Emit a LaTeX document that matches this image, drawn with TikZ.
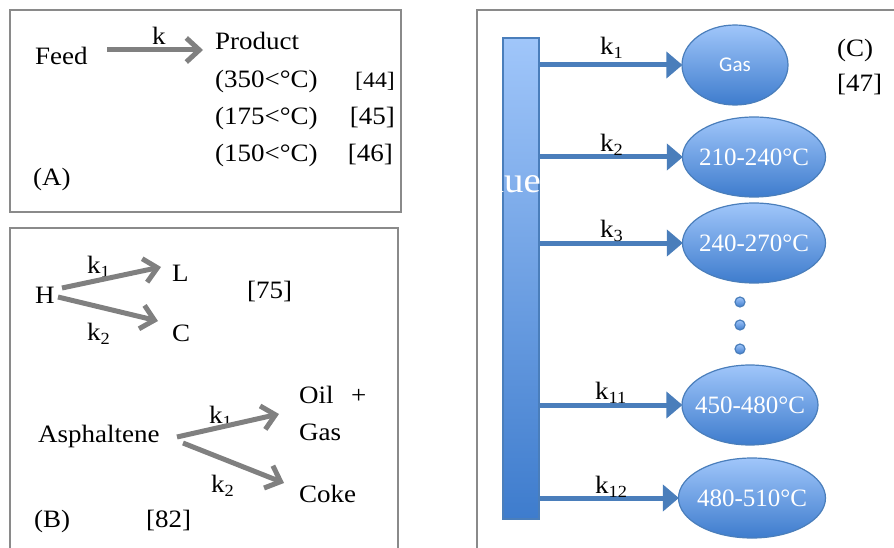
\documentclass[tikz,border=0pt]{standalone}
\usepackage{fontspec}
\setmainfont{Liberation Serif}[FakeStretch=1.08]
\newfontfamily\ovalfont{Liberation Serif}
\newfontfamily\gasfont{Carlito}
\usetikzlibrary{arrows.meta,shapes.geometric}
\definecolor{boxgray}{RGB}{138,138,138}
\definecolor{arrgray}{RGB}{128,128,128}
\definecolor{blueline}{RGB}{74,126,187}
\definecolor{bluetop}{RGB}{160,198,250}
\definecolor{bluebot}{RGB}{62,124,205}
\newcommand\ksubs[1]{k\raisebox{-4pt}{\fontsize{17}{17}\selectfont #1}}
\newcommand\ovaltext[1]{\makebox[0pt]{#1}}
\begin{document}
\begin{tikzpicture}[x=1pt,y=-1pt,
  txt/.style={inner sep=0pt, font=\fontsize{25}{30}\selectfont},
  frame/.style={draw=boxgray, line width=2pt},
  garrow/.style={draw=arrgray, line width=5pt, -{Straight Barb[length=13pt,width=24pt]}},
  barrow/.style={draw=blueline, line width=5pt, -{Triangle[length=16pt,width=26pt]}, shorten >=-1pt},
  bluefill/.style={draw=blueline, line width=1.2pt, top color=bluetop, bottom color=bluebot},
  oval/.style={bluefill, ellipse, inner sep=0pt, minimum height=80pt, text=white, font=\ovalfont\fontsize{25}{30}\selectfont},
  dot/.style={bluefill, circle, inner sep=0pt, minimum size=10pt}
]
\useasboundingbox (0,0) rectangle (894,548);

% ---- Box C contents (drawn first so the frame lies on top) ----
\node[bluefill, rectangle, inner sep=0pt, minimum width=36pt, minimum height=481pt] (bar) at (521,278.5) {};
\node[txt, anchor=base east, text=white, font=\fontsize{36}{40}\selectfont] (res) at (541,193) {Residue};

% frames
\draw[frame] (10,10) rectangle (401,212);
\draw[frame] (10,548) -- (10,228) -- (398,228) -- (398,548);
\draw[frame] (477,548) -- (477,10) -- (896,10);

% ---- Box A ----
\node[txt, anchor=base west] (feed) at (35,65) {Feed};
\node[txt, anchor=base west] (k0) at (152,45) {k};
\node[txt, anchor=base west] (product) at (215,50) {Product};
\node[txt, anchor=base west] (t350) at (215,88) {(350<°C)};
\node[txt, anchor=base east, font=\fontsize{22}{26}\selectfont] (r44) at (395,88) {[44]};
\node[txt, anchor=base west] (t175) at (215,125) {(175<°C)};
\node[txt, anchor=base east] (r45) at (395,125) {[45]};
\node[txt, anchor=base west] (t150) at (215,162) {(150<°C)};
\node[txt, anchor=base east] (r46) at (393,162) {[46]};
\node[txt, anchor=base west] (labA) at (33,186) {(A)};
\coordinate (fs) at (107,50);
\coordinate (fe) at (203,50);
\draw[garrow] (fs) -- (fe);

% ---- Box B ----
\node[txt, anchor=base west] (H) at (35,303) {H};
\node[txt, anchor=base west] (L) at (172,281) {L};
\node[txt, anchor=base west] (C) at (172,341) {C};
\node[txt, anchor=base west] (r75) at (247,298) {[75]};
\node[txt, anchor=base west] (kb1) at (87,273) {\ksubs{1}};
\node[txt, anchor=base west] (kb2) at (87,340) {\ksubs{2}};
\coordinate (hl1) at (62,288);
\coordinate (hl2) at (161,267);
\coordinate (hc1) at (58,297);
\coordinate (hc2) at (158,321);
\draw[garrow] (hl1) -- (hl2);
\draw[garrow] (hc1) -- (hc2);

\node[txt, anchor=base west] (asph) at (38,442) {Asphaltene};
\node[txt, anchor=base west] (oil) at (299,403) {Oil};
\node[txt, anchor=base west] (plus) at (351,403) {+};
\node[txt, anchor=base west] (gasB) at (299,440) {Gas};
\node[txt, anchor=base west] (coke) at (299,502) {Coke};
\node[txt, anchor=base west] (kb3) at (209,423) {\ksubs{1}};
\node[txt, anchor=base west] (kb4) at (211,492) {\ksubs{2}};
\node[txt, anchor=base west] (labB) at (34,527) {(B)};
\node[txt, anchor=base west] (r82) at (146,527) {[82]};
\coordinate (ao1) at (177,437);
\coordinate (ao2) at (279,414);
\coordinate (ac1) at (183,443);
\coordinate (ac2) at (284,483);
\draw[garrow] (ao1) -- (ao2);
\draw[garrow] (ac1) -- (ac2);

% ---- Box C ----
\node[oval, minimum width=106pt, font=\gasfont\fontsize{21}{24}\selectfont] (e1) at (735,65) {\ovaltext{Gas}};
\node[oval, minimum width=143pt] (e2) at (754,157) {\ovaltext{210-240°C}};
\node[oval, minimum width=143pt] (e3) at (754,243) {\ovaltext{240-270°C}};
\node[dot] (d1) at (740,302) {};
\node[dot] (d2) at (740,325) {};
\node[dot] (d3) at (740,349) {};
\node[oval, minimum width=136pt] (e11) at (750,405) {\ovaltext{450-480°C}};
\node[oval, minimum width=147pt] (e12) at (752,498) {\ovaltext{480-510°C}};

\draw[barrow] (bar.east |- e1.west) -- (e1.west);
\draw[barrow] (bar.east |- e2.west) -- (e2.west);
\draw[barrow] (bar.east |- e3.west) -- (e3.west);
\draw[barrow] (bar.east |- e11.west) -- (e11.west);
\draw[barrow] (bar.east |- e12.west) -- (e12.west);

\node[txt, anchor=base west] (kc1) at (600,55) {\ksubs{1}};
\node[txt, anchor=base west] (kc2) at (600,152) {\ksubs{2}};
\node[txt, anchor=base west] (kc3) at (600,237) {\ksubs{3}};
\node[txt, anchor=base west] (kc11) at (595,399) {\ksubs{11}};
\node[txt, anchor=base west] (kc12) at (595,493) {\ksubs{12}};

\node[txt, anchor=base west] (labC) at (837,57) {(C)};
\node[txt, anchor=base west] (r47) at (837,92) {[47]};
\end{tikzpicture}
\end{document}
